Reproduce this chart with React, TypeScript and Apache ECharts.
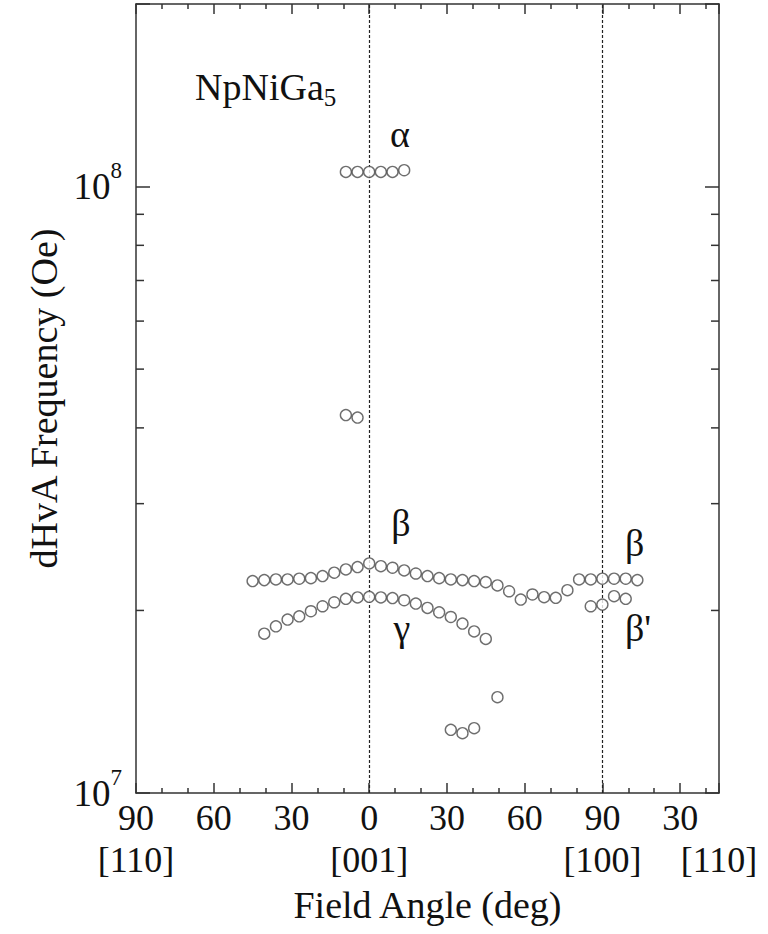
import { useEffect, useRef } from "react";
import * as echarts from "echarts";

const FONT = "Liberation Serif";

// ---- data ----
const alphaAngles = [-9, -4.5, 0, 4.5, 9, 13.5];
const alphaFreq = [1.057e8, 1.057e8, 1.057e8, 1.057e8, 1.057e8, 1.064e8];

const alphaLowAngles = [-9, -4.5];
const alphaLowFreq = [4.2e7, 4.16e7];

const betaAngles = [
  -45, -40.5, -36, -31.5, -27, -22.5, -18, -13.5, -9, -4.5, 0, 4.5, 9, 13.5, 18, 22.5, 27,
  31.5, 36, 40.5, 45, 49.5, 54, 58.5, 63, 67.5, 72, 76.5, 81, 85.5, 90, 94.5, 99, 103.5,
];
const betaFreq = [
  2.236e7, 2.244e7, 2.25e7, 2.25e7, 2.256e7, 2.261e7, 2.279e7, 2.308e7, 2.337e7, 2.358e7,
  2.391e7, 2.366e7, 2.352e7, 2.328e7, 2.301e7, 2.279e7, 2.261e7, 2.25e7, 2.244e7, 2.236e7,
  2.227e7, 2.199e7, 2.151e7, 2.084e7, 2.125e7, 2.103e7, 2.098e7, 2.16e7, 2.25e7, 2.25e7,
  2.256e7, 2.256e7, 2.256e7, 2.244e7,
];

const betaPrimeAngles = [85.5, 90, 94.5, 99];
const betaPrimeFreq = [2.032e7, 2.045e7, 2.111e7, 2.09e7];

const gammaAngles = [
  -40.5, -36, -31.5, -27, -22.5, -18, -13.5, -9, -4.5, 0, 4.5, 9, 13.5, 18, 22.5, 27, 31.5,
  36, 40.5, 45,
];
const gammaFreq = [
  1.831e7, 1.883e7, 1.932e7, 1.956e7, 1.994e7, 2.032e7, 2.063e7, 2.09e7, 2.101e7, 2.106e7,
  2.101e7, 2.096e7, 2.079e7, 2.053e7, 2.019e7, 1.986e7, 1.951e7, 1.903e7, 1.847e7, 1.795e7,
];

const lowAngles = [31.5, 36, 40.5, 49.5];
const lowFreq = [1.271e7, 1.255e7, 1.279e7, 1.439e7];

// ---- axes ----
const xMin = -90;
const xMax = 135;
const xInterval = 30;
const xTickValues = [-90, -60, -30, 0, 30, 60, 90, 120];
const xTickTexts = ["90", "60", "30", "0", "30", "60", "90", "30"];
const xDirValues = [-90, 0, 90, 135];
const xDirTexts = ["[110]", "[001]", "[100]", "[110]"];
const dashedAngles = [0, 90];

const yMin = 1e7;
const yMax = 2e8;
const yMinorTicks = [2e7, 3e7, 4e7, 5e7, 6e7, 7e7, 8e7, 9e7];

const near = (a: number, b: number) => Math.abs(a - b) < 1e-6;

export default function App() {
  const ref = useRef<HTMLDivElement>(null);

  useEffect(() => {
    document.body.style.margin = "0";
    const chart = echarts.init(ref.current!, null, { renderer: "svg" });
    const pairs = (xs: number[], ys: number[]) => xs.map((x, i) => [x, ys[i]]);
    const axisColor = "#333";
    const textColor = "#111";

    const scatter = (name: string, xs: number[], ys: number[], extra: any = {}) => ({
      name,
      type: "scatter",
      data: pairs(xs, ys),
      symbol: "circle",
      symbolSize: 11,
      itemStyle: { color: "#fff", borderColor: "#4a4a4a", borderWidth: 1.4 },
      z: 3,
      ...extra,
    });

    const xAxisBase = {
      type: "value",
      min: xMin,
      max: xMax,
      interval: xInterval,
      splitLine: { show: false },
      axisLine: { show: true, onZero: false, lineStyle: { color: axisColor, width: 1.5 } },
      axisTick: { show: true, inside: true, length: 10, lineStyle: { color: axisColor, width: 1.5 } },
      minorTick: { show: true, splitNumber: 3, length: 5, lineStyle: { color: axisColor, width: 1.5 } },
      minorSplitLine: { show: false },
    };

    const yAxisBase = {
      type: "log",
      logBase: 10,
      min: yMin,
      max: yMax,
      splitLine: { show: false },
      axisLine: { show: true, onZero: false, lineStyle: { color: axisColor, width: 1.5 } },
      axisTick: { show: true, inside: true, length: 14, lineStyle: { color: axisColor, width: 1.5 } },
      minorTick: { show: false },
    };

    const xLabelStyle = {
      show: true,
      margin: 4,
      hideOverlap: false,
      fontFamily: FONT,
      fontSize: 36,
      lineHeight: 42,
      color: textColor,
    };

    const option: any = {
      animation: false,
      backgroundColor: "#fff",
      textStyle: { fontFamily: FONT },
      grid: { left: 136, right: 49, top: 4, bottom: 141, containLabel: false, outerBoundsMode: "none" },
      xAxis: [
        {
          ...xAxisBase,
          position: "bottom",
          name: "Field Angle (deg)",
          nameLocation: "middle",
          nameGap: 90,
          nameTextStyle: { fontFamily: FONT, fontSize: 38, color: textColor },
          axisLabel: {
            ...xLabelStyle,
            showMinLabel: true,
            showMaxLabel: false,
            formatter: (v: number) => {
              const i = xTickValues.findIndex((t) => near(t, v));
              if (i < 0) return "";
              const j = xDirValues.findIndex((t) => near(t, v));
              return xTickTexts[i] + "\n" + (j >= 0 ? xDirTexts[j] : "");
            },
          },
        },
        {
          ...xAxisBase,
          position: "top",
          axisLabel: { show: false },
        },
        {
          ...xAxisBase,
          position: "bottom",
          axisLine: { show: false },
          axisTick: { show: false },
          minorTick: { show: false },
          axisLabel: {
            ...xLabelStyle,
            showMinLabel: false,
            showMaxLabel: true,
            formatter: (v: number) => {
              if (!near(v, xMax)) return "";
              const j = xDirValues.findIndex((t) => near(t, v));
              return " \n" + (j >= 0 ? xDirTexts[j] : "");
            },
          },
        },
      ],
      yAxis: [
        {
          ...yAxisBase,
          position: "left",
          name: "dHvA Frequency (Oe)",
          nameLocation: "middle",
          nameRotate: 90,
          nameGap: 68,
          nameTextStyle: { fontFamily: FONT, fontSize: 38, color: textColor },
          axisLabel: {
            show: true,
            margin: 14,
            showMaxLabel: true,
            fontFamily: FONT,
            color: textColor,
            formatter: (v: number) => {
              const e = Math.log10(v);
              if (Math.abs(e - Math.round(e)) > 1e-6) return "";
              return "{n|10}{s|" + Math.round(e) + "}";
            },
            rich: {
              n: { fontFamily: FONT, fontSize: 37, color: textColor },
              s: { fontFamily: FONT, fontSize: 23, color: textColor, padding: [0, 0, 32, 0] },
            },
          },
        },
        {
          ...yAxisBase,
          position: "right",
          axisLabel: { show: false },
        },
      ],
      series: [
        scatter("alpha", alphaAngles, alphaFreq),
        scatter("alphaLow", alphaLowAngles, alphaLowFreq),
        scatter("beta", betaAngles, betaFreq, {
          markLine: {
            silent: true,
            symbol: ["none", "none"],
            label: { show: false },
            lineStyle: { type: [3, 2], color: "#222", width: 1.2 },
            data: dashedAngles.map((a) => ({ xAxis: a })),
            z: 1,
          },
        }),
        scatter("betaPrime", betaPrimeAngles, betaPrimeFreq),
        scatter("gamma", gammaAngles, gammaFreq),
        scatter("low", lowAngles, lowFreq),
        {
          name: "yMinorTicks",
          type: "custom",
          silent: true,
          clip: false,
          z: 5,
          data: yMinorTicks.map((v) => [xMin, v]),
          renderItem: (params: any, api: any) => {
            const cs = params.coordSys;
            const y = api.coord([api.value(0), api.value(1)])[1];
            const st = { stroke: axisColor, lineWidth: 1.5 };
            return {
              type: "group",
              children: [
                { type: "line", shape: { x1: cs.x, y1: y, x2: cs.x + 8, y2: y }, style: st },
                { type: "line", shape: { x1: cs.x + cs.width - 8, y1: y, x2: cs.x + cs.width, y2: y }, style: st },
              ],
            };
          },
        },
      ],
      graphic: [
        {
          type: "text",
          x: 195,
          y: 87,
          style: {
            text: "{m|NpNiGa}{b|5}",
            verticalAlign: "middle",
            rich: {
              m: { fontFamily: FONT, fontSize: 38, fill: textColor },
              b: { fontFamily: FONT, fontSize: 25, fill: textColor, padding: [20, 0, 0, 0] },
            },
          },
        },
        { type: "text", x: 400, y: 134, style: { text: "α", fontFamily: FONT, fontSize: 38, fill: textColor, align: "center", verticalAlign: "middle" } },
        { type: "text", x: 401, y: 523, style: { text: "β", fontFamily: FONT, fontSize: 38, fill: textColor, align: "center", verticalAlign: "middle" } },
        { type: "text", x: 402, y: 628, style: { text: "γ", fontFamily: FONT, fontSize: 38, fill: textColor, align: "center", verticalAlign: "middle" } },
        { type: "text", x: 625, y: 543, style: { text: "β", fontFamily: FONT, fontSize: 38, fill: textColor, align: "left", verticalAlign: "middle" } },
        { type: "text", x: 625, y: 628, style: { text: "β'", fontFamily: FONT, fontSize: 38, fill: textColor, align: "left", verticalAlign: "middle" } },
      ],
    };

    chart.setOption(option);
    return () => chart.dispose();
  }, []);

  return <div ref={ref} style={{ position: "absolute", left: 0, top: 0, width: 768, height: 934 }} />;
}
